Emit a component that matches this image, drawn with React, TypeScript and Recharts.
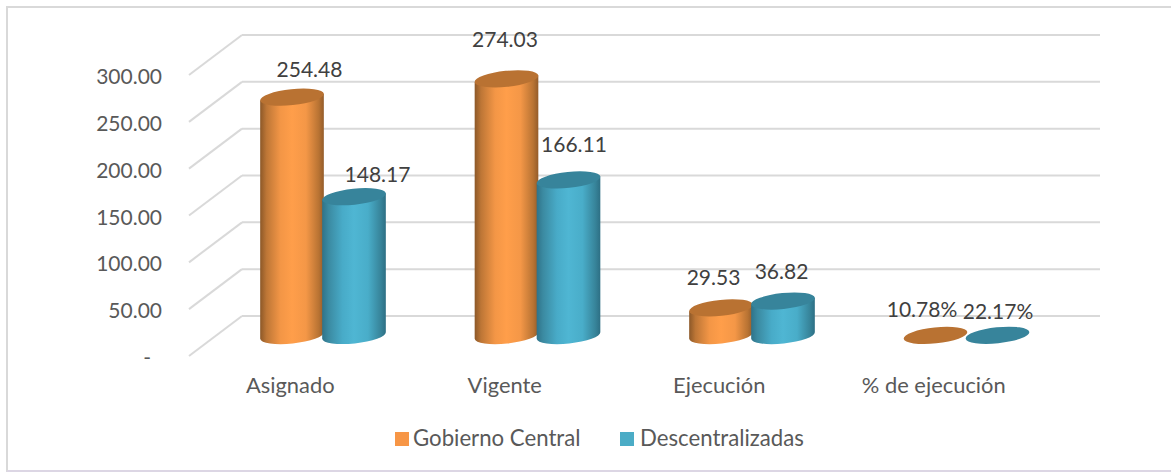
import React from "react";
import { BarChart, Bar, XAxis, YAxis, CartesianGrid, Legend, LabelList } from "recharts";

const categories = ["Asignado", "Vigente", "Ejecución", "% de ejecución"];
const gobiernoCentral = [254.48, 274.03, 29.53, 0.1078];
const descentralizadas = [148.17, 166.11, 36.82, 0.2217];
const gobiernoLabels = ["254.48", "274.03", "29.53", "10.78%"];
const descentralizadasLabels = ["148.17", "166.11", "36.82", "22.17%"];
const yTicks = [0, 50, 100, 150, 200, 250, 300];

const rows = categories.map((name, i) => ({
  name,
  gobierno: gobiernoCentral[i],
  descentralizadas: descentralizadas[i],
}));

// 3D projection of the original: back wall -> floor front edge, bars stand mid-depth
const FONT = "Lato, 'Open Sans', sans-serif";
const WALL_LEFT = 242;
const DEPTH_X = 53;
const DEPTH_Y = 40;
const TILT = -6;
const RY = 8;
const GOB_NUDGE = [[18, -28], [-1, -40], [-7, -31], [-13, -26]];
const DES_NUDGE = [[24, -23], [6, -36], [-1, -30], [1, -24]];

const Cylinder = (props: any) => {
  const { x, y, width, height, gradient, cap } = props;
  const dx = -DEPTH_X / 2 + 0.5;
  const dy = DEPTH_Y / 2 - 0.5;
  const rx = width / 2;
  const cx = x + dx + rx;
  const top = y + dy;
  const bottom = y + height + dy;
  const a = (TILT * Math.PI) / 180;
  const ex = rx * Math.cos(a);
  const ey = rx * Math.sin(a);
  const side = `M${cx - ex} ${top - ey} L${cx - ex} ${bottom - ey} A${rx} ${RY} ${TILT} 0 0 ${cx + ex} ${bottom + ey} L${cx + ex} ${top + ey} Z`;
  return (
    <g>
      {height > 1 && <path d={side} fill={`url(#${gradient})`} />}
      <ellipse cx={cx} cy={top} rx={rx} ry={RY} fill={cap} transform={`rotate(${TILT} ${cx} ${top})`} />
    </g>
  );
};

const YTick = (props: any) => {
  const { y, payload } = props;
  const isZero = payload.value === 0;
  return (
    <g>
      <line x1={WALL_LEFT} y1={y} x2={WALL_LEFT - DEPTH_X} y2={y + DEPTH_Y} stroke="#d9d9d9" strokeWidth={2} />
      <text x={isZero ? 151 : 162} y={y + DEPTH_Y + 9} textAnchor="end" fontFamily={FONT} fontSize={21} fill="#595959">
        {isZero ? "-" : payload.value.toFixed(2)}
      </text>
    </g>
  );
};

const XTick = (props: any) => {
  const { x, payload } = props;
  return (
    <text x={x - 59} y={393} textAnchor="middle" fontFamily={FONT} fontSize={21.9} fill="#595959">
      {payload.value}
    </text>
  );
};

const makeLabel = (labels: string[], nudge: number[][]) => (props: any) => {
  const { x, y, width, index } = props;
  return (
    <text
      x={x + width / 2 - DEPTH_X / 2 + nudge[index][0]}
      y={y + DEPTH_Y / 2 - 0.5 + nudge[index][1] + 8}
      textAnchor="middle"
      fontFamily={FONT}
      fontSize={21}
      fill="#404040"
    >
      {labels[index]}
    </text>
  );
};

const LegendBox = () => (
  <div style={{ position: "relative", width: 420, height: 30, fontFamily: FONT, fontSize: 22.2, color: "#595959" }}>
    <span style={{ position: "absolute", left: 0, top: 8, width: 14, height: 14, background: "#f79646" }} />
    <span style={{ position: "absolute", left: 18, top: -1, lineHeight: "30px", whiteSpace: "nowrap" }}>Gobierno Central</span>
    <span style={{ position: "absolute", left: 225, top: 8, width: 14, height: 14, background: "#4bacc6" }} />
    <span style={{ position: "absolute", left: 245, top: -1, lineHeight: "30px", whiteSpace: "nowrap" }}>Descentralizadas</span>
  </div>
);

export default function App() {
  return (
    <div style={{ position: "absolute", left: 0, top: 0, width: 1171, height: 472, background: "#fff", overflow: "hidden" }}>
      <div style={{ position: "absolute", left: 6, top: 6, right: -4, height: 462, borderTop: "2px solid #d9d9d9", borderLeft: "2px solid #d9d9d9", borderBottom: "2px solid #dcd6e4" }} />
      <div style={{ position: "absolute", left: 0, top: 0 }}>
        <BarChart
          width={1171}
          height={472}
          data={rows}
          margin={{ top: 35, right: 71, bottom: 96, left: 0 }}
          barSize={64}
          barGap={-2}
        >
          <defs>
            <linearGradient id="orangeCyl" x1="0" x2="1" y1="0" y2="0">
              <stop offset="0" stopColor="#8c5828" />
              <stop offset="0.1" stopColor="#bd7636" />
              <stop offset="0.32" stopColor="#f39646" />
              <stop offset="0.5" stopColor="#ff9e4a" />
              <stop offset="0.72" stopColor="#f49747" />
              <stop offset="0.92" stopColor="#b87333" />
              <stop offset="1" stopColor="#945c2a" />
            </linearGradient>
            <linearGradient id="blueCyl" x1="0" x2="1" y1="0" y2="0">
              <stop offset="0" stopColor="#2f7389" />
              <stop offset="0.1" stopColor="#3b8aa1" />
              <stop offset="0.32" stopColor="#48abc8" />
              <stop offset="0.5" stopColor="#4fb6d3" />
              <stop offset="0.72" stopColor="#49adc9" />
              <stop offset="0.92" stopColor="#37849a" />
              <stop offset="1" stopColor="#2d6f84" />
            </linearGradient>
          </defs>
          <CartesianGrid vertical={false} stroke="#d9d9d9" strokeWidth={2} />
          <XAxis dataKey="name" axisLine={false} tickLine={false} tick={<XTick />} interval={0} />
          <YAxis
            width={WALL_LEFT}
            domain={[0, 300]}
            ticks={yTicks}
            axisLine={false}
            tickLine={false}
            tick={<YTick />}
            interval={0}
          />
          <Legend
            content={<LegendBox />}
            wrapperStyle={{ position: "absolute", left: 395, top: 424, width: 420, bottom: "auto" }}
          />
          <Bar
            dataKey="gobierno"
            name="Gobierno Central"
            fill="#f79646"
            isAnimationActive={false}
            shape={<Cylinder gradient="orangeCyl" cap="#b97232" />}
          >
            <LabelList dataKey="gobierno" content={makeLabel(gobiernoLabels, GOB_NUDGE)} />
          </Bar>
          <Bar
            dataKey="descentralizadas"
            name="Descentralizadas"
            fill="#4bacc6"
            isAnimationActive={false}
            shape={<Cylinder gradient="blueCyl" cap="#37849b" />}
          >
            <LabelList dataKey="descentralizadas" content={makeLabel(descentralizadasLabels, DES_NUDGE)} />
          </Bar>
        </BarChart>
      </div>
    </div>
  );
}
